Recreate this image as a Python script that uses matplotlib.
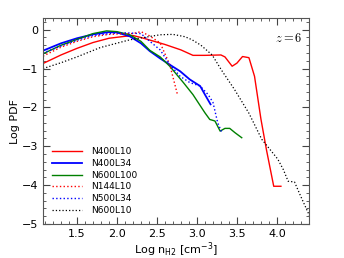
import matplotlib
matplotlib.use('Agg')
import matplotlib.pyplot as plt
from matplotlib.ticker import MultipleLocator

# N400L10 (red solid)
x_n400l10 = [1.075, 1.3, 1.5, 1.7, 1.9, 2.1, 2.2, 2.3, 2.4, 2.6, 2.8, 2.95, 3.1, 3.3, 3.35,
             3.44, 3.5, 3.57, 3.65, 3.72, 3.8, 3.87, 3.96, 4.05]
y_n400l10 = [-0.87, -0.65, -0.48, -0.33, -0.22, -0.17, -0.15, -0.2, -0.26, -0.38, -0.52, -0.66,
             -0.66, -0.65, -0.7, -0.94, -0.86, -0.69, -0.72, -1.2, -2.3, -3.1, -4.03, -4.03]

# N400L34 (blue solid)
x_n400l34 = [1.075, 1.3, 1.5, 1.7, 1.9, 2.0, 2.16, 2.3, 2.41, 2.54, 2.66, 2.79, 2.91, 3.04, 3.1, 3.17]
y_n400l34 = [-0.54, -0.35, -0.22, -0.12, -0.06, -0.07, -0.17, -0.35, -0.55, -0.74, -0.9, -1.07,
             -1.28, -1.45, -1.67, -1.92]

# N600L100 (green solid)
x_n600l100 = [1.075, 1.3, 1.5, 1.7, 1.87, 2.0, 2.16, 2.3, 2.41, 2.54, 2.66, 2.83, 2.95, 3.1,
              3.16, 3.225, 3.29, 3.35, 3.41, 3.475, 3.56]
y_n600l100 = [-0.62, -0.4, -0.25, -0.1, -0.03, -0.05, -0.13, -0.3, -0.53, -0.7, -0.94, -1.36,
              -1.67, -2.14, -2.31, -2.35, -2.61, -2.54, -2.54, -2.65, -2.78]

# N144L10 (red dotted)
x_n144l10 = [1.075, 1.3, 1.5, 1.7, 1.9, 2.1, 2.2, 2.3, 2.4, 2.54, 2.66, 2.76]
y_n144l10 = [-0.68, -0.45, -0.3, -0.18, -0.12, -0.1, -0.1, -0.05, -0.15, -0.34, -0.9, -1.7]

# N500L34 (blue dotted)
x_n500l34 = [1.075, 1.3, 1.5, 1.7, 1.9, 2.1, 2.3, 2.4, 2.54, 2.66, 2.79, 2.91, 3.04, 3.14,
             3.2, 3.26, 3.31]
y_n500l34 = [-0.6, -0.42, -0.27, -0.15, -0.1, -0.08, -0.1, -0.28, -0.52, -0.9, -1.2, -1.36,
             -1.45, -1.67, -1.87, -2.4, -2.64]

# N600L10 (black dotted)
x_n600l10 = [1.075, 1.3, 1.5, 1.79, 2.16, 2.54, 2.7, 2.85, 2.94, 3.05, 3.19, 3.31, 3.47, 3.65,
             3.81, 4.01, 4.08, 4.14, 4.22, 4.3, 4.41]
y_n600l10 = [-1.0, -0.85, -0.7, -0.46, -0.26, -0.13, -0.12, -0.18, -0.26, -0.4, -0.65, -1.05,
             -1.54, -2.15, -2.82, -3.33, -3.6, -3.9, -3.92, -4.3, -4.8]

fig = plt.figure(figsize=(3.44, 2.58), dpi=100)
ax = fig.add_axes([0.125, 0.132, 0.773, 0.798])

ax.plot(x_n400l10, y_n400l10, color='red', lw=1.0, label='N400L10')
ax.plot(x_n400l34, y_n400l34, color='blue', lw=1.3, label='N400L34')
ax.plot(x_n600l100, y_n600l100, color='green', lw=1.0, label='N600L100')
ax.plot(x_n144l10, y_n144l10, color='red', lw=1.0, ls=':', label='N144L10')
ax.plot(x_n500l34, y_n500l34, color='blue', lw=1.0, ls=':', label='N500L34')
ax.plot(x_n600l10, y_n600l10, color='black', lw=0.9, ls=':', label='N600L10')

ax.set_xlim(1.075, 4.4)
ax.set_ylim(-5, 0.3)
ax.xaxis.set_major_locator(MultipleLocator(0.5))
ax.xaxis.set_minor_locator(MultipleLocator(0.1))
ax.yaxis.set_major_locator(MultipleLocator(1))
ax.yaxis.set_minor_locator(MultipleLocator(0.2))
ax.tick_params(which='both', direction='in', top=True, right=True, labelsize=8, colors='#444444',
               labelcolor='black')
ax.tick_params(which='major', length=5)
ax.tick_params(which='minor', length=2.5)
for s in ax.spines.values():
    s.set_color('#555555')

ax.set_xlabel(r'Log n$_{\rm H2}$ [cm$^{-3}$]', fontsize=8, labelpad=1)
ax.set_ylabel('Log PDF', fontsize=8, labelpad=1)
ax.text(0.975, 0.9, r'$z=6$', transform=ax.transAxes, ha='right', va='center', fontsize=9,
        math_fontfamily='cm')

ax.legend(loc='lower left', frameon=False, fontsize=6.5, handlelength=3.3, handletextpad=1.0,
          labelspacing=0.3, borderaxespad=0.6)

fig.savefig('out.png', dpi=100)
